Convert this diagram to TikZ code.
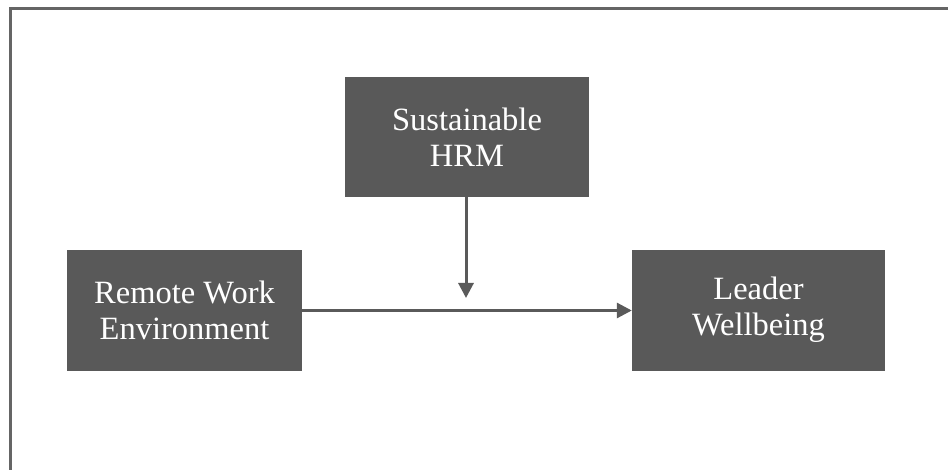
\documentclass[tikz,border=0pt]{standalone}
\usepackage{fontspec}
\setmainfont{Liberation Serif}
\usetikzlibrary{arrows.meta}
\definecolor{boxgray}{HTML}{595959}
\definecolor{framegray}{HTML}{656565}
\definecolor{arrowgray}{HTML}{5A5A5A}
\begin{document}
\begin{tikzpicture}[x=1pt,y=-1pt,
  varbox/.style={draw=none,fill=boxgray,text=white,align=center,inner sep=0pt,
    font=\fontsize{32.5}{36}\selectfont},
  link/.style={draw=arrowgray,line width=3pt,-{Triangle[length=15pt,width=15pt]}}]
\useasboundingbox (0,0) rectangle (948,470);
\fill[white] (0,0) rectangle (948,470);
\draw[framegray,line width=3.5pt] (10.5,475) -- (10.5,8.5) -- (955,8.5);
\node[varbox,minimum width=244pt,minimum height=120pt] (hrm) at (467,137) {Sustainable\\HRM};
\node[varbox,minimum width=235pt,minimum height=121pt] (rwe) at (184.5,310.5) {Remote Work\\Environment};
\node[varbox,minimum width=253pt,minimum height=121pt] (lw) at (758.5,310.5) {\raisebox{-3pt}{\begin{tabular}{@{}c@{}}Leader\\[0pt]Wellbeing\end{tabular}}};
\coordinate (mid) at (466,298);
\draw[link] (rwe.east) -- (lw.west);
\draw[link] (hrm.south -| mid) -- (mid);
\end{tikzpicture}
\end{document}
